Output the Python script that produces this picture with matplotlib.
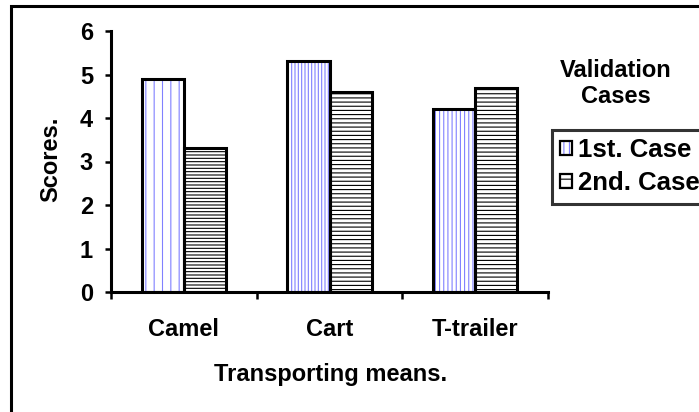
import numpy as np
import matplotlib
matplotlib.use("Agg")
import matplotlib.pyplot as plt
from matplotlib.patches import Rectangle
from matplotlib.legend_handler import HandlerTuple

# dados
meios = ["Camel", "Cart", "T-trailer"]
caso_1 = [4.9, 5.3, 4.2]
caso_2 = [3.3, 4.6, 4.7]
nomes_series = ["1st. Case", "2nd. Case"]

plt.rcParams["font.family"] = ["Liberation Sans", "DejaVu Sans"]
plt.rcParams["font.weight"] = "bold"
plt.rcParams["hatch.linewidth"] = 0.8

W, H = 699, 412
FS = 17
fig = plt.figure(figsize=(W / 100, H / 100), dpi=100)
ax = fig.add_axes([111 / W, 1 - 292 / H, (548 - 111) / W, (292 - 31) / H])

x = np.arange(len(meios))
largura = 0.29
azul = "#8080ff"
hatch_1 = ["||", "|||||", "||||"]
hatch_2 = ["-----", "----", "----"]

# primeiro o hachurado, depois o contorno preto por cima
b1 = ax.bar(x - largura / 2, caso_1, largura, color="white", edgecolor=azul, linewidth=0)
b2 = ax.bar(x + largura / 2, caso_2, largura, color="white", edgecolor="black", linewidth=0)
for barra, h in zip(b1, hatch_1):
    barra.set_hatch(h)
for barra, h in zip(b2, hatch_2):
    barra.set_hatch(h)
ax.bar(x - largura / 2, caso_1, largura, fill=False, edgecolor="black", linewidth=2.2)
ax.bar(x + largura / 2, caso_2, largura, fill=False, edgecolor="black", linewidth=2.2)

ax.set_xlim(-0.5, len(meios) - 0.5)
ax.set_ylim(0, 6)
ax.set_yticks(range(0, 7))
ax.set_xticks(np.arange(-0.5, len(meios)), labels=[""] * (len(meios) + 1))
ax.set_xticks(x, labels=meios, minor=True)

for lado in ["top", "right"]:
    ax.spines[lado].set_visible(False)
for lado in ["left", "bottom"]:
    ax.spines[lado].set_linewidth(2.2)

ax.tick_params(axis="y", direction="out", length=4, width=1.8, pad=9, labelsize=FS)
ax.tick_params(axis="x", which="major", direction="out", length=5, width=1.8)
ax.tick_params(axis="x", which="minor", length=0, pad=19, labelsize=FS)

fig.text(51 / W, 1 - 159 / H, "Scores.", fontsize=FS, fontweight="bold",
         rotation=90, ha="center", va="center")
fig.text(331 / W, 1 - 375 / H, "Transporting means.", fontsize=FS, fontweight="bold",
         ha="center", va="center")

# título da legenda fora da caixa
fig.text(616 / W, 1 - 77 / H, "Validation", fontsize=FS, fontweight="bold",
         ha="center", va="baseline")
fig.text(616 / W, 1 - 103 / H, "Cases", fontsize=FS, fontweight="bold",
         ha="center", va="baseline")

ph1 = Rectangle((0, 0), 1, 1, facecolor="white", edgecolor=azul, hatch="|||", linewidth=0)
ph2 = Rectangle((0, 0), 1, 1, facecolor="white", edgecolor="black", hatch="--", linewidth=0)
borda = Rectangle((0, 0), 1, 1, fill=False, edgecolor="black", linewidth=1.6)
leg = fig.legend([(ph1, borda), (ph2, borda)], nomes_series, loc="upper left",
                 handler_map={tuple: HandlerTuple(ndivide=1, pad=0)},
                 bbox_to_anchor=(552 / W, 1 - 130 / H), frameon=True, fancybox=False,
                 prop={"size": 18.5, "weight": "bold"}, handlelength=0.45, handleheight=0.45,
                 handletextpad=0.25, borderpad=0.33, labelspacing=0.35, borderaxespad=0)
leg.get_frame().set_edgecolor("black")
leg.get_frame().set_linewidth(2.2)

# moldura externa cortada à direita e embaixo (como no original)
fig.add_artist(Rectangle((11 / W, -0.1), 2, 1 - 6 / H + 0.1, transform=fig.transFigure,
                         fill=False, edgecolor="black", linewidth=2.2))

fig.savefig("out.png", dpi=100)
